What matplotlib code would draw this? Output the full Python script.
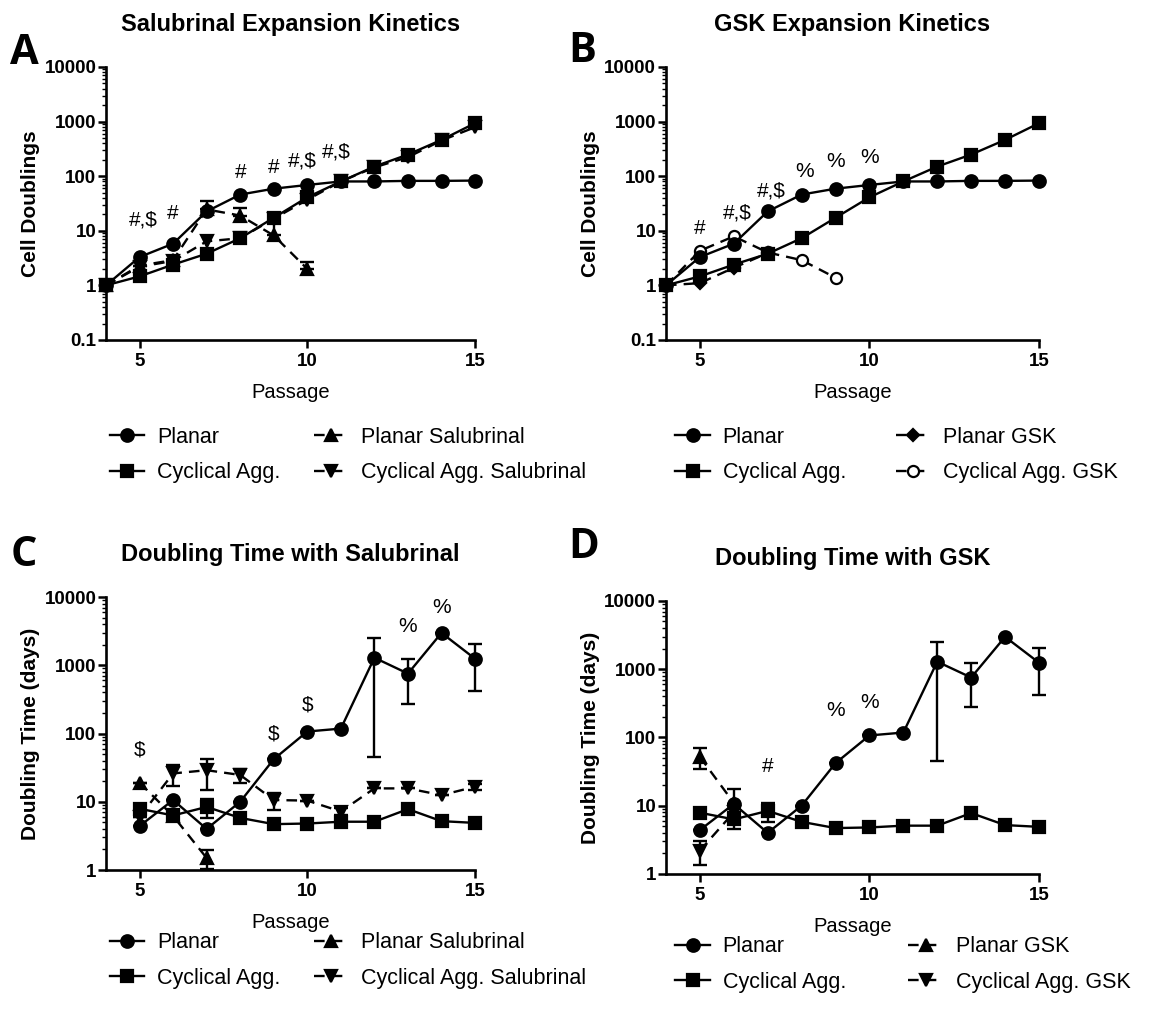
import numpy as np
import matplotlib
matplotlib.use("Agg")
import matplotlib.pyplot as plt
from matplotlib.ticker import LogLocator, NullFormatter

plt.rcParams['font.family'] = ['Liberation Sans', 'DejaVu Sans']

# ---- expansion kinetics (cell doublings), passages 4..15 ----
passage_exp = [4, 5, 6, 7, 8, 9, 10, 11, 12, 13, 14, 15]
planar_exp = [1, 3.3, 5.8, 22.6, 46, 59, 69, 80, 80, 82, 82, 83]
cyclical_exp = [1, 1.46, 2.4, 3.8, 7.3, 17.3, 41, 80, 150, 249, 462, 933]

passage_psal = [4, 5, 6, 7, 8, 9, 10]
planar_sal_exp = [1, 2.3, 2.9, 24.6, 19, 8.2, 2.0]
planar_sal_exp_err = [0, 0, 0, 11, 7, 5.5, 0.7]
cyclical_sal_exp = [1, 2.2, 2.8, 6.4, 7.3, 16.6, 37, 80, 145, 223, 450, 790]

passage_pgsk = [4, 5, 6, 7]
planar_gsk_exp = [1, 1.1, 2.1, 3.9]
passage_cgsk = [4, 5, 6, 7, 8, 9]
cyclical_gsk_exp = [1, 4.3, 7.9, 4.0, 2.9, 1.38]

# ---- doubling time (days), passages 5..15 ----
passage_dt = [5, 6, 7, 8, 9, 10, 11, 12, 13, 14, 15]
planar_dt = [4.4, 10.6, 4.0, 10.0, 42, 107, 118, 1290, 755, 2980, 1245]
planar_dt_err = [0, 0, 0, 0, 0, 0, 0, 1245, 480, 0, 830]
cyclical_dt = [7.9, 6.3, 8.4, 5.8, 4.7, 4.8, 5.1, 5.1, 7.8, 5.2, 4.9]
cyclical_dt_err = [0, 0, 2.7, 0, 0, 0, 0, 0, 0, 0, 0]

passage_psal_dt = [5, 6, 7]
planar_sal_dt = [19, 6.2, 1.5]
planar_sal_dt_err = [0, 0, 0.45]
cyclical_sal_dt = [6, 26, 29, 24.7, 10.6, 10.4, 7.2, 15.7, 15.7, 12.5, 16.6]
cyclical_sal_dt_err = [0, 9, 14, 6, 3, 0, 0.8, 0, 0, 0, 1.8]

passage_gsk_dt = [5, 6]
planar_gsk_dt = [52, 11]
planar_gsk_dt_err = [18, 6.5]
cyclical_gsk_dt = [2.2, 8]
cyclical_gsk_dt_err = [0.85, 0]

LW = 1.7
DASH = (0, (4.5, 3))


def line(ax, x, y, marker, ls='-', ms=9, mfc='black', label=None, z=3):
    return ax.plot(x, y, color='black', lw=LW, ls=ls, marker=marker, ms=ms,
                   mfc=mfc, mec='black', mew=1.6, label=label, clip_on=False,
                   zorder=z)[0]


def errs(ax, x, y, e, up_only=False):
    e = np.array(e, dtype=float)
    lo = np.zeros_like(e) if up_only else e
    ax.errorbar(x, y, yerr=[lo, e], fmt='none', ecolor='black', elinewidth=LW,
                capsize=5, capthick=LW, clip_on=False, zorder=2)


def style(ax, ylim, yticks, ylabel, title):
    ax.set_yscale('log')
    ax.set_xlim(4, 15)
    ax.set_ylim(*ylim)
    ax.set_xticks([5, 10, 15])
    ax.set_xticklabels(['5', '10', '15'], fontweight='bold', fontsize=13.5)
    ax.set_yticks(yticks)
    ax.set_yticklabels([f'{t:g}' for t in yticks], fontweight='bold', fontsize=13.5)
    ax.yaxis.set_minor_locator(LogLocator(base=10, subs=np.arange(2, 10)))
    ax.yaxis.set_minor_formatter(NullFormatter())
    ax.tick_params(axis='y', which='major', length=5.5, width=1.8, pad=1.5)
    ax.tick_params(axis='x', which='major', length=5.5, width=1.8, pad=4)
    ax.tick_params(axis='y', which='minor', length=3, width=1)
    ax.tick_params(axis='x', which='minor', length=0)
    for s in ['top', 'right']:
        ax.spines[s].set_visible(False)
    for s in ['left', 'bottom']:
        ax.spines[s].set_linewidth(1.9)
    ax.set_ylabel(ylabel, fontsize=15, fontweight='bold', labelpad=3)
    ax.set_xlabel('Passage', fontsize=14.5, labelpad=9)
    ax.set_title(title, fontsize=17, fontweight='bold', pad=26)


def legend(ax, handles, x, y, colsp=1.55):
    ax.legend(handles=handles, ncol=2, loc='upper left', bbox_to_anchor=(x, y),
              frameon=False, fontsize=15.5, handlelength=1.6, handletextpad=0.6,
              columnspacing=colsp, labelspacing=0.68, borderpad=0, borderaxespad=0)


def annotate(ax, items):
    for x, y, s in items:
        ax.text(x, y, s, ha='center', va='center', fontsize=15)


fig = plt.figure(figsize=(11.57, 10.10), dpi=100)
axA = fig.add_axes([0.0916, 0.6634, 0.319, 0.2703])
axB = fig.add_axes([0.5756, 0.6634, 0.3224, 0.2703])
axC = fig.add_axes([0.0916, 0.1386, 0.319, 0.2703])
axD = fig.add_axes([0.5756, 0.1347, 0.3224, 0.2703])

exp_ticks = [0.1, 1, 10, 100, 1000, 10000]
dt_ticks = [1, 10, 100, 1000, 10000]

# ---- A ----
hA1 = line(axA, passage_exp, planar_exp, 'o', label='Planar')
hA2 = line(axA, passage_exp, cyclical_exp, 's', ms=8.5, label='Cyclical Agg.')
hA3 = line(axA, passage_psal, planar_sal_exp, '^', ls=DASH, label='Planar Salubrinal', z=2.5)
errs(axA, passage_psal, planar_sal_exp, planar_sal_exp_err, up_only=True)
hA4 = line(axA, passage_exp, cyclical_sal_exp, 'v', ls=DASH, label='Cyclical Agg. Salubrinal', z=2.5)
style(axA, (0.1, 10000), exp_ticks, 'Cell Doublings', 'Salubrinal Expansion Kinetics')
annotate(axA, [(5.1, 15.5, '#,$'), (6.0, 21, '#'), (8.0, 118, '#'), (9.0, 145, '#'),
               (9.85, 186, '#,$'), (10.85, 280, '#,$')])
legend(axA, [hA1, hA2, hA3, hA4], 0.01, -0.318)

# ---- B ----
hB1 = line(axB, passage_exp, planar_exp, 'o', label='Planar')
hB2 = line(axB, passage_exp, cyclical_exp, 's', ms=8.5, label='Cyclical Agg.')
hB3 = line(axB, passage_pgsk, planar_gsk_exp, 'D', ls=DASH, ms=6, label='Planar GSK', z=2.5)
hB4 = line(axB, passage_cgsk, cyclical_gsk_exp, 'o', ls=DASH, ms=8, mfc='white',
           label='Cyclical Agg. GSK', z=2.5)
style(axB, (0.1, 10000), exp_ticks, 'Cell Doublings', 'GSK Expansion Kinetics')
annotate(axB, [(5.0, 11, '#'), (6.1, 21.5, '#,$'), (7.1, 53, '#,$'), (8.1, 123, '%'),
               (9.0, 182, '%'), (10.0, 224, '%')])
legend(axB, [hB1, hB2, hB3, hB4], 0.025, -0.318, colsp=2.3)

# ---- C ----
hC1 = line(axC, passage_dt, planar_dt, 'o', label='Planar')
errs(axC, passage_dt, planar_dt, planar_dt_err)
hC2 = line(axC, passage_dt, cyclical_dt, 's', ms=8.5, label='Cyclical Agg.')
errs(axC, passage_dt, cyclical_dt, cyclical_dt_err)
hC3 = line(axC, passage_psal_dt, planar_sal_dt, '^', ls=DASH, label='Planar Salubrinal', z=2.5)
errs(axC, passage_psal_dt, planar_sal_dt, planar_sal_dt_err)
hC4 = line(axC, passage_dt, cyclical_sal_dt, 'v', ls=DASH, label='Cyclical Agg. Salubrinal', z=2.5)
errs(axC, passage_dt, cyclical_sal_dt, cyclical_sal_dt_err)
style(axC, (1, 10000), dt_ticks, 'Doubling Time (days)', 'Doubling Time with Salubrinal')
annotate(axC, [(5.0, 58, '$'), (9.0, 100, '$'), (10.0, 260, '$'), (13.0, 3700, '%'),
               (14.0, 7000, '%')])
legend(axC, [hC1, hC2, hC3, hC4], 0.01, -0.228)

# ---- D ----
hD1 = line(axD, passage_dt, planar_dt, 'o', label='Planar')
errs(axD, passage_dt, planar_dt, planar_dt_err)
hD2 = line(axD, passage_dt, cyclical_dt, 's', ms=8.5, label='Cyclical Agg.')
errs(axD, passage_dt, cyclical_dt, cyclical_dt_err)
hD3 = line(axD, passage_gsk_dt, planar_gsk_dt, '^', ls=DASH, label='Planar GSK', z=2.5)
errs(axD, passage_gsk_dt, planar_gsk_dt, planar_gsk_dt_err)
hD4 = line(axD, passage_gsk_dt, cyclical_gsk_dt, 'v', ls=DASH, label='Cyclical Agg. GSK', z=2.5)
errs(axD, passage_gsk_dt, cyclical_gsk_dt, cyclical_gsk_dt_err)
style(axD, (1, 10000), dt_ticks, 'Doubling Time (days)', 'Doubling Time with GSK')
annotate(axD, [(7.0, 37, '#'), (9.0, 250, '%'), (10.0, 330, '%')])
legend(axD, [hD1, hD2, hD3, hD4], 0.025, -0.228, colsp=2.9)

# panel letters
for x, y, s in [(10, 54, 'A'), (568, 52, 'B'), (11, 555, 'C'), (568, 548, 'D')]:
    fig.text(x / 1157, 1 - y / 1010, s, fontsize=30, fontweight='bold',
             family=['Open Sans', 'DejaVu Sans'], ha='left', va='center')

fig.savefig('out.png', dpi=100)
